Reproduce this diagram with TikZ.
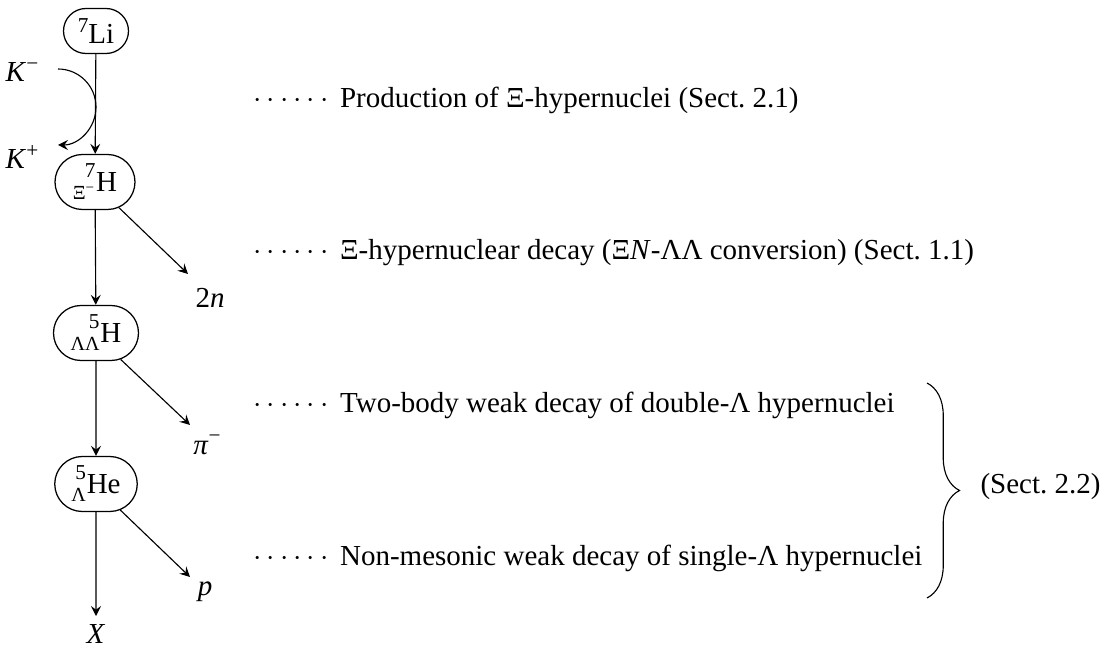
\documentclass[tikz,border=0pt]{standalone}
\usepackage{fontspec}
\setmainfont{Liberation Serif}
\usetikzlibrary{shapes.misc,decorations.pathreplacing,arrows.meta}
\newcommand\nuc[3]{\begingroup\sbox0{\fontsize{8}{8}\selectfont #2}\sbox2{\fontsize{8.5}{8.5}\selectfont #1}%
\ifdim\wd0>\wd2 \dimen0=\wd0 \else \dimen0=\wd2 \fi
\makebox[\dimen0][r]{\raisebox{-0.6ex}{\usebox0}}\llap{\raisebox{1.05ex}{\usebox2}}\kern0.03em #3\endgroup}
\newcommand\sups[1]{\raisebox{0.85ex}{\fontsize{8.5}{8.5}\selectfont #1}}
\newcommand\dotsrow{$\cdots\cdots$\hspace{0.4em}}
\tikzset{
  nucl/.style={draw, rounded rectangle, inner sep=0pt, line width=0.5pt},
  arr/.style={-{Stealth[length=4pt,width=4pt,inset=1.5pt]}, line width=0.45pt},
  lbl/.style={inner sep=0pt},
  txt/.style={anchor=west, inner sep=0pt},
}
\begin{document}
\begin{tikzpicture}[x=0.4pt,y=-0.4pt,font=\fontsize{11.6}{13}\selectfont]
\path[use as bounding box] (0,0) rectangle (1107,651);
\node[nucl, minimum width=26pt, minimum height=18pt] (li) at (96,31) {\sups{7}Li};
\node[nucl, minimum width=32pt, minimum height=22pt] (xh) at (95,182) {\nuc{7}{Ξ\textsuperscript{−}}{H}};
\node[nucl, minimum width=34pt, minimum height=22pt] (llh) at (96,333) {\nuc{5}{ΛΛ}{H}};
\node[nucl, minimum width=33pt, minimum height=22pt] (lhe) at (96,484) {\nuc{5}{Λ}{He}};
\node[lbl] (km) at (22,72) {\textit{K}\sups{−}};
\node[lbl] (kp) at (22,157) {\textit{K}\sups{+}};
\node[lbl] (nn) at (210,298) {2\textit{n}};
\node[lbl] (pim) at (207,445) {\textit{π}\sups{−}};
\node[lbl] (pp) at (205,592) {\textit{p}};
\node[lbl, inner sep=3.2pt] (xx) at (96,634) {\textit{X}};
\coordinate (a0) at (58,69);
\draw[arr] (a0) arc[start angle=-90, end angle=90, radius=38];
\draw[arr] (li) -- (xh);
\draw[arr] (xh) -- (llh);
\draw[arr] (llh) -- (lhe);
\draw[arr] (lhe) -- (xx);
\coordinate (e1) at (188,274);
\coordinate (e2) at (190,425);
\coordinate (e3) at (190,577);
\draw[arr] (xh.-47) -- (e1);
\draw[arr] (llh.-47) -- (e2);
\draw[arr] (lhe.-47) -- (e3);
\node[txt] (t1) at (253,100) {\dotsrow Production of Ξ-hypernuclei (Sect.~2.1)};
\node[txt] (t2) at (253,253) {\dotsrow Ξ-hypernuclear decay (Ξ\textit{N}-ΛΛ conversion) (Sect.~1.1)};
\node[txt] (t3) at (253,405) {\dotsrow Two-body weak decay of double-Λ hypernuclei};
\node[txt] (t4) at (253,558) {\dotsrow Non-mesonic weak decay of single-Λ hypernuclei};
\coordinate (b0) at (927,383);
\coordinate (b1) at (927,598);
\draw[decorate, decoration={brace, amplitude=13pt}, line width=0.45pt] (b0) -- (b1);
\node[txt] (s22) at (980,487) {(Sect.~2.2)};
\end{tikzpicture}
\end{document}
